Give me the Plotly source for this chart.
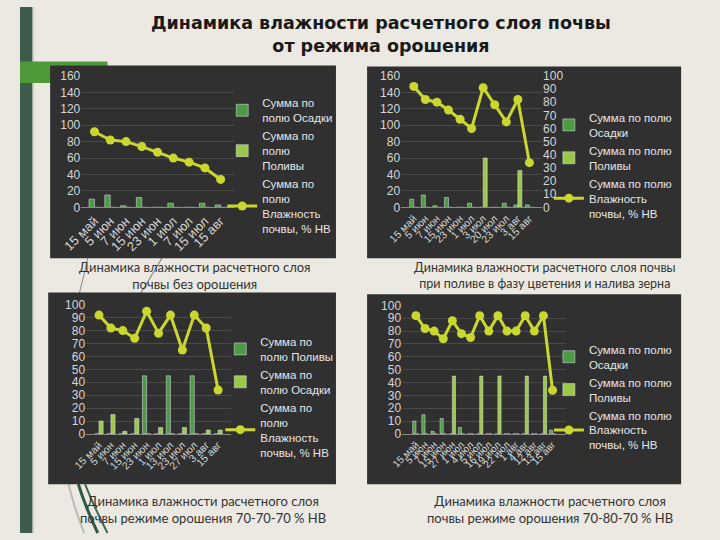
import plotly.graph_objects as go

W, H = 720, 540

# ---------------- data ----------------
dates1 = ["15 май", "5 июн", "7 июн", "15 июн", "23 июн", "1 июл", "7 июл", "15 июл", "15 авг"]
osadki1 = [10, 15, 2, 12, 0, 5, 0, 5, 3]
polivy1 = [0, 0, 0, 0, 0, 0, 0, 0, 0]
moist1 = [92, 82, 80, 74, 67, 60, 55, 48, 34]

dates2 = ["15 май", "5 июн", "7 июн", "15 июн", "23 июн", "1 июл", "3 июл", "20 июл", "23 июл", "3 авг", "15 авг"]
osadki2 = [10, 15, 2, 12, 0, 5, 0, 0, 5, 3, 3]
polivy2 = [0, 0, 0, 0, 0, 0, 60, 0, 0, 45, 0]
moist2 = [92, 82, 80, 74, 67, 60, 91, 78, 65, 82, 34]

dates3 = ["15 май", "5 июн", "7 июн", "15 июн", "23 июн", "1 июл", "13 июл", "23 июл", "27 июл", "3 авг", "15 авг"]
polivy3 = [0, 0, 0, 0, 45, 0, 45, 0, 45, 0, 0]
osadki3 = [10, 15, 2, 12, 0, 5, 0, 5, 0, 3, 3]
moist3 = [92, 82, 80, 74, 95, 78, 92, 65, 92, 82, 34]

dates4 = ["15 май", "5 июн", "7 июн", "15 июн", "27 июн", "1 июл", "4 июл", "5 июл", "16 июл",
          "19 июл", "22 июл", "1 авг", "4 авг", "12 авг", "13 авг", "15 авг"]
osadki4 = [10, 15, 2, 12, 0, 5, 0, 0, 0, 0, 0, 0, 0, 0, 0, 3]
polivy4 = [0, 0, 0, 0, 45, 0, 0, 45, 0, 45, 0, 0, 45, 0, 45, 0]
moist4 = [92, 82, 80, 74, 88, 78, 75, 92, 80, 92, 80, 80, 92, 80, 92, 34]

title_text = "<b>Динамика влажности расчетного слоя почвы<br>от режима орошения</b>"
captions = [
    "Динамика влажности расчетного слоя<br>почвы без орошения",
    "Динамика влажности расчетного слоя почвы<br>при поливе в фазу цветения и налива зерна",
    "Динамика влажности расчетного слоя<br>почвы режиме орошения 70-70-70 % НВ",
    "Динамика влажности расчетного слоя<br>почвы режиме орошения 70-80-70 % НВ",
]
leg_osadki_a = "Сумма по<br>полю Осадки"
leg_polivy_a = "Сумма по<br>полю<br>Поливы"
leg_polivy_c = "Сумма по<br>полю Поливы"
leg_moist_a = "Сумма по<br>полю<br>Влажность<br>почвы, % НВ"
leg_osadki_b = "Сумма по полю<br>Осадки"
leg_polivy_b = "Сумма по полю<br>Поливы"
leg_moist_b = "Сумма по полю<br>Влажность<br>почвы, % НВ"

# ---------------- style ----------------
DARK_G = "#4e9a44"
LIGHT_G = "#9cc84a"
LINE_C = "#c9d72f"
TICK_C = "#d6d6d6"
GRID_C = "#4a4a4a"
PANEL_C = "#303030"
FONT = "Liberation Sans, Arial, sans-serif"


def fx(x):
    return x / W


def fy(y):
    return 1 - y / H


fig = go.Figure()


def add_chart(xa, ya, dates, s1, n1, c1, s2, n2, c2, moist, nm, legend, ya_line=None):
    fig.add_trace(go.Bar(x=dates, y=s1, name=n1, marker_color=c1, xaxis=xa, yaxis=ya,
                         legend=legend, offsetgroup="a" + xa))
    fig.add_trace(go.Bar(x=dates, y=s2, name=n2, marker_color=c2, xaxis=xa, yaxis=ya,
                         legend=legend, offsetgroup="b" + xa))
    fig.add_trace(go.Scatter(x=dates, y=moist, name=nm, mode="lines+markers",
                             line=dict(color=LINE_C, width=3),
                             marker=dict(color=LINE_C, size=9),
                             xaxis=xa, yaxis=ya_line or ya, legend=legend))


add_chart("x", "y", dates1, osadki1, leg_osadki_a, DARK_G, polivy1, leg_polivy_a, LIGHT_G,
          moist1, leg_moist_a, "legend")
add_chart("x2", "y2", dates2, osadki2, leg_osadki_b, DARK_G, polivy2, leg_polivy_b, LIGHT_G,
          moist2, leg_moist_b, "legend2", ya_line="y3")
add_chart("x3", "y4", dates3, polivy3, leg_polivy_c, DARK_G, osadki3, leg_osadki_a, LIGHT_G,
          moist3, leg_moist_a, "legend3")
add_chart("x4", "y5", dates4, osadki4, leg_osadki_b, DARK_G, polivy4, leg_polivy_b, LIGHT_G,
          moist4, leg_moist_b, "legend4")


def xaxis(domain, anchor, cats, fs):
    return dict(domain=domain, anchor=anchor, type="category", tickmode="array",
                tickvals=cats, ticktext=cats, tickangle=-45,
                tickfont=dict(family=FONT, size=fs, color=TICK_C),
                showline=True, linecolor="#8a8a8a", linewidth=1, showgrid=False,
                ticks="", fixedrange=True)


def yaxis(domain, anchor, rng, dtick, grid=True, **kw):
    d = dict(domain=domain, anchor=anchor, range=rng, dtick=dtick, tick0=0,
             tickfont=dict(family=FONT, size=12, color=TICK_C),
             showgrid=grid, gridcolor=GRID_C, gridwidth=1, zeroline=False,
             showline=False, ticks="", fixedrange=True)
    d.update(kw)
    return d


def legend(x, y):
    return dict(x=fx(x), y=fy(y), xanchor="left", yanchor="top",
                bgcolor="rgba(0,0,0,0)", borderwidth=0,
                font=dict(family=FONT, size=11.5, color="#e6e6e6"),
                itemwidth=30, tracegroupgap=0, valign="middle")


# panel rectangles & decorations
shapes = []


def rect(x0, y0, x1, y1, color):
    shapes.append(dict(type="rect", xref="paper", yref="paper",
                       x0=fx(x0), x1=fx(x1), y0=fy(y1), y1=fy(y0),
                       fillcolor=color, line=dict(width=0), layer="below"))


def curve(pts, color, width):
    (ax, ay), (cx, cy), (bx, by) = pts
    path = f"M {fx(ax)},{fy(ay)} Q {fx(cx)},{fy(cy)} {fx(bx)},{fy(by)}"
    shapes.append(dict(type="path", xref="paper", yref="paper", path=path,
                       line=dict(color=color, width=width), layer="below"))


rect(0, 0, 13, 540, "#3d5c4b")
rect(13, 0, 15, 540, "#d8d8cf")
rect(0, 56, 90, 78, "#4e9a3b")
curve([(50, 490), (56, 515), (66, 540)], "#b8bdb5", 2)
curve([(60, 490), (68, 515), (80, 540)], "#2f5a40", 3)
curve([(67, 490), (77, 515), (90, 540)], "#3d6a4c", 2)
curve([(147, 256), (136, 275), (124, 294)], "#6a6a6a", 1)
curve([(70, 256), (66, 275), (61, 294)], "#8a8a8a", 1)
rect(31, 60, 325, 258, PANEL_C)
rect(357, 61, 680, 258, PANEL_C)
rect(29, 293, 325, 490, PANEL_C)
rect(357, 295, 680, 490, PANEL_C)

annotations = [
    dict(text=title_text, x=fx(371), y=fy(28.5), xref="paper", yref="paper",
         showarrow=False, xanchor="center", yanchor="middle",
         font=dict(family="DejaVu Sans, sans-serif", size=17.5, color="#1a1a1a")),
]
cap_pos = [(180, 276, 13), (540, 276, 12.5), (188, 516, 13), (545, 516, 13)]
for txt, (cx, cy, fs) in zip(captions, cap_pos):
    annotations.append(dict(text=txt, x=fx(cx), y=fy(cy), xref="paper", yref="paper",
                            showarrow=False, xanchor="center", yanchor="middle",
                            font=dict(family="Lato, Noto Sans, sans-serif", size=fs, color="#333333")))

fig.update_layout(
    width=W, height=H, autosize=False,
    margin=dict(l=0, r=0, t=0, b=0),
    paper_bgcolor="#ebe9e1", plot_bgcolor="rgba(0,0,0,0)",
    barmode="group", bargap=0.3, bargroupgap=0,
    showlegend=True,
    xaxis=xaxis([fx(63), fx(220)], "y", dates1, 13),
    yaxis=yaxis([fy(205.7), fy(70.7)], "x", [0, 160], 20),
    xaxis2=xaxis([fx(392), fx(537)], "y2", dates2, 10.5),
    yaxis2=yaxis([fy(205.7), fy(70.7)], "x2", [0, 160], 20),
    yaxis3=yaxis([fy(205.7), fy(70.7)], "x2", [0, 100], 10, grid=False,
                 overlaying="y2", side="right"),
    xaxis3=xaxis([fx(68), fx(217)], "y4", dates3, 10.5),
    yaxis4=yaxis([fy(438.3), fy(305.7)], "x3", [0, 100], 10),
    xaxis4=xaxis([fx(393), fx(562)], "y5", dates4, 10),
    yaxis5=yaxis([fy(438.3), fy(306.3)], "x4", [0, 100], 10),
    legend=legend(208, 84),
    legend2=legend(544, 99),
    legend3=legend(206, 329),
    legend4=legend(544, 337),
    shapes=shapes,
    annotations=annotations,
)

fig.write_html("out.html", config={"displayModeBar": False},
               post_script="document.body.style.margin='0';")
